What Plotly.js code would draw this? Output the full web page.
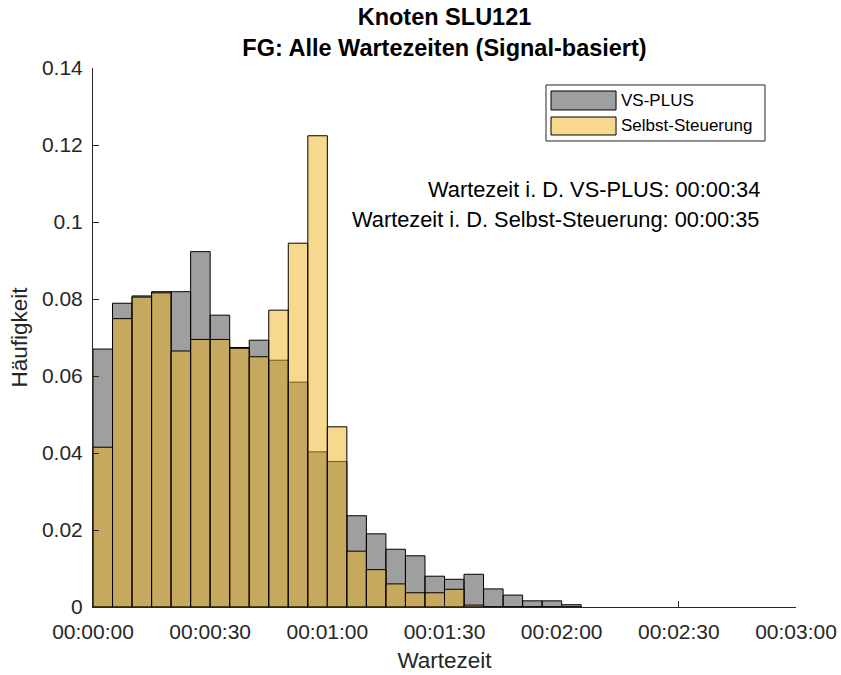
<!DOCTYPE html>
<html>
<head>
<meta charset="utf-8">
<script src="https://cdn.plot.ly/plotly-3.0.1.min.js"></script>
<style>html,body{margin:0;padding:0;background:#fff;}#chart{width:841px;height:675px;}</style>
</head>
<body>
<div id="chart"></div>
<script>
// Bin centres in seconds (5 s bins)
const binCenters = [2.5, 7.5, 12.5, 17.5, 22.5, 27.5, 32.5, 37.5, 42.5, 47.5, 52.5, 57.5, 62.5,
                    67.5, 72.5, 77.5, 82.5, 87.5, 92.5, 97.5, 102.5, 107.5, 112.5, 117.5, 122.5];
const vsPlus = [0.0670, 0.0789, 0.0808, 0.0819, 0.0819, 0.0923, 0.0758, 0.0674, 0.0693, 0.0641,
                0.0584, 0.0403, 0.0378, 0.0237, 0.0190, 0.0150, 0.0133, 0.0080, 0.0072, 0.0085,
                0.0047, 0.0031, 0.0016, 0.0016, 0.0006];
const selbst = [0.0415, 0.0749, 0.0805, 0.0816, 0.0665, 0.0695, 0.0695, 0.0672, 0.0650, 0.0771,
                0.0945, 0.1224, 0.0468, 0.0145, 0.0097, 0.0060, 0.0037, 0.0037, 0.0046, 0.0005,
                0, 0, 0, 0, 0];
const seriesNames = ['VS-PLUS', 'Selbst-Steuerung'];
const xTickVals = [0, 30, 60, 90, 120, 150, 180];
const xTickText = ['00:00:00', '00:00:30', '00:01:00', '00:01:30', '00:02:00', '00:02:30', '00:03:00'];
const yTickVals = [0, 0.02, 0.04, 0.06, 0.08, 0.1, 0.12, 0.14];
const infoLines = ['Wartezeit i. D. VS-PLUS: 00:00:34', 'Wartezeit i. D. Selbst-Steuerung: 00:00:35'];

const grayFill = 'rgba(64,64,64,0.5)';
const yellowFill = 'rgba(237,177,32,0.5)';
const FONT = 'Liberation Sans, Arial, Helvetica, sans-serif';
const AX = '#262626';

const traces = [
  {type: 'bar', x: binCenters, y: vsPlus, width: 5, name: seriesNames[0],
   marker: {color: grayFill, line: {color: '#000', width: 1}}, showlegend: false, hoverinfo: 'skip'},
  {type: 'bar', x: binCenters, y: selbst, width: 5, name: seriesNames[1],
   marker: {color: yellowFill, line: {color: '#000', width: 1}}, showlegend: false, hoverinfo: 'skip'}
];

// manual legend (MATLAB-like wide swatches), paper coordinates
const shapes = [
  {type: 'rect', xref: 'paper', yref: 'paper', x0: 0.6444, x1: 0.9559, y0: 0.8646, y1: 0.9685,
   line: {color: AX, width: 1}, fillcolor: '#fff', layer: 'above'},
  {type: 'rect', xref: 'paper', yref: 'paper', x0: 0.6515, x1: 0.7440, y0: 0.9221, y1: 0.9573,
   line: {color: '#000', width: 1}, fillcolor: grayFill, layer: 'above'},
  {type: 'rect', xref: 'paper', yref: 'paper', x0: 0.6515, x1: 0.7440, y0: 0.8757, y1: 0.9091,
   line: {color: '#000', width: 1}, fillcolor: yellowFill, layer: 'above'}
];

const annotations = [
  {xref: 'paper', yref: 'paper', x: 0.7482, y: 0.9397, xanchor: 'left', yanchor: 'middle',
   text: seriesNames[0], showarrow: false, font: {family: FONT, size: 17, color: '#000'}},
  {xref: 'paper', yref: 'paper', x: 0.7482, y: 0.8924, xanchor: 'left', yanchor: 'middle',
   text: seriesNames[1], showarrow: false, font: {family: FONT, size: 17, color: '#000'}},
  {xref: 'paper', yref: 'paper', x: 0.9516, y: 0.7737, xanchor: 'right', yanchor: 'middle',
   text: infoLines[0], showarrow: false, font: {family: FONT, size: 21.8, color: '#000'}},
  {xref: 'paper', yref: 'paper', x: 0.9516, y: 0.7180, xanchor: 'right', yanchor: 'middle',
   text: infoLines[1], showarrow: false, font: {family: FONT, size: 21.8, color: '#000'}}
];

const layout = {
  width: 841, height: 675,
  paper_bgcolor: '#fff', plot_bgcolor: '#fff',
  margin: {l: 93, r: 45, t: 68, b: 68},
  barmode: 'overlay', bargap: 0,
  font: {family: FONT, size: 21, color: AX},
  title: {text: '<b>Knoten SLU121</b><br><b>FG: Alle Wartezeiten (Signal-basiert)</b>',
          font: {family: FONT, size: 23.5, color: '#000'},
          x: 0.5, xref: 'paper', y: 0.9624, yref: 'container', yanchor: 'top'},
  xaxis: {range: [0, 180], tickvals: xTickVals, ticktext: xTickText,
          ticks: 'inside', ticklen: 6, tickcolor: AX, showline: true, linecolor: AX, linewidth: 1,
          showgrid: false, zeroline: false, mirror: false, ticklabelstandoff: 6,
          tickfont: {family: FONT, size: 21, color: AX},
          title: {text: 'Wartezeit', font: {family: FONT, size: 22.5, color: AX}, standoff: 10}},
  yaxis: {range: [0, 0.14], tickvals: yTickVals,
          ticks: 'inside', ticklen: 6, tickcolor: AX, showline: true, linecolor: AX, linewidth: 1,
          showgrid: false, zeroline: false, mirror: false, ticklabelstandoff: 5,
          tickfont: {family: FONT, size: 21, color: AX},
          title: {text: 'Häufigkeit', font: {family: FONT, size: 22.5, color: AX}, standoff: 8}},
  shapes: shapes,
  annotations: annotations
};

Plotly.newPlot('chart', traces, layout, {displayModeBar: false, staticPlot: true});
</script>
</body>
</html>
